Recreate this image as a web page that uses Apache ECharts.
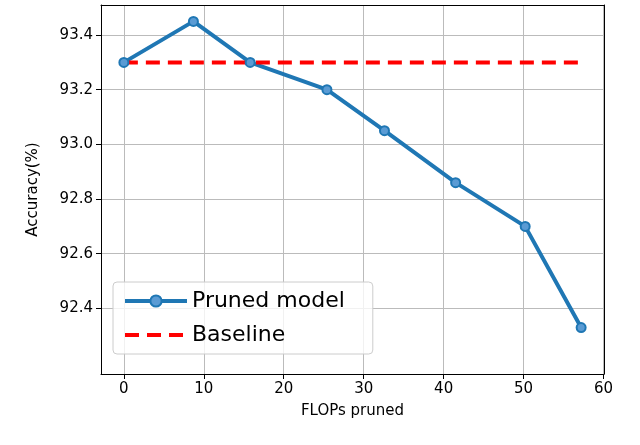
<!DOCTYPE html>
<html>
<head>
<meta charset="utf-8">
<script src="https://cdn.jsdelivr.net/npm/echarts@6/dist/echarts.min.js"></script>
<style>html,body{margin:0;padding:0;background:#fff}#main{width:640px;height:445px}</style>
</head>
<body>
<div id="main"></div>
<script>
var flops = [0, 8.7, 15.8, 25.4, 32.6, 41.5, 50.2, 57.2];
var accuracy = [93.3, 93.45, 93.3, 93.2, 93.05, 92.86, 92.7, 92.33];
var baseline = 93.3;
var xTicks = [0, 10, 20, 30, 40, 50, 60];
var yTicks = [92.4, 92.6, 92.8, 93.0, 93.2, 93.4];

var chart = echarts.init(document.getElementById('main'));
var font = 'DejaVu Sans';
var xMin = -2.86, xMax = 60.06, yMin = 92.16, yMax = 93.51;

var option = {
  animation: false,
  textStyle: { fontFamily: font },
  grid: { left: 101, right: 36, top: 5, bottom: 71 },
  legend: {
    left: 113, top: 282, orient: 'vertical',
    itemWidth: 62, itemHeight: 14, itemGap: 12,
    padding: [8, 28, 8, 10],
    borderColor: '#ccc', borderWidth: 1, borderRadius: 4,
    backgroundColor: 'rgba(255,255,255,0.8)',
    textStyle: { fontSize: 22, color: '#000', fontFamily: font },
    data: [
      { name: 'Pruned model', lineStyle: { width: 4 } },
      { name: 'Baseline', itemStyle: { opacity: 0 }, lineStyle: { width: 4 } }
    ]
  },
  xAxis: [{
    type: 'value', min: xMin, max: xMax,
    name: 'FLOPs pruned', nameLocation: 'middle', nameGap: 30,
    nameTextStyle: { fontSize: 15, color: '#000' },
    axisLine: { onZero: false, lineStyle: { color: '#000' } },
    axisTick: { customValues: xTicks, lineStyle: { color: '#000' } },
    axisLabel: { customValues: xTicks, fontSize: 15, color: '#000' },
    splitLine: { show: true, lineStyle: { color: '#bbb' } }
  }, {
    type: 'value', position: 'top', min: xMin, max: xMax,
    axisLine: { onZero: false, lineStyle: { color: '#000' } },
    axisTick: { show: false }, axisLabel: { show: false }, splitLine: { show: false }
  }],
  yAxis: [{
    type: 'value', min: yMin, max: yMax,
    name: 'Accuracy(%)', nameLocation: 'middle', nameGap: 60,
    nameTextStyle: { fontSize: 15, color: '#000' },
    axisLine: { show: true, onZero: false, lineStyle: { color: '#000' } },
    axisTick: { show: true, customValues: yTicks, lineStyle: { color: '#000' } },
    axisLabel: { customValues: yTicks, fontSize: 15, color: '#000',
      formatter: function (v) { return v.toFixed(1); } },
    splitLine: { show: true, lineStyle: { color: '#bbb' } }
  }, {
    type: 'value', position: 'right', min: yMin, max: yMax,
    axisLine: { show: true, onZero: false, lineStyle: { color: '#000' } },
    axisTick: { show: false }, axisLabel: { show: false }, splitLine: { show: false }
  }],
  series: [
    {
      name: 'Pruned model', type: 'line',
      data: flops.map(function (x, i) { return [x, accuracy[i]]; }),
      symbol: 'circle', symbolSize: 9,
      lineStyle: { color: '#1f77b4', width: 4 },
      itemStyle: { color: '#5a9bd4', borderColor: '#1f77b4', borderWidth: 2 }
    },
    {
      name: 'Baseline', type: 'line',
      data: [[flops[0], baseline], [flops[flops.length - 1], baseline]],
      symbol: 'none',
      lineStyle: { color: '#ff0000', width: 4, type: [14, 8] },
      itemStyle: { color: '#ff0000' }
    }
  ]
};
chart.setOption(option);
</script>
</body>
</html>
